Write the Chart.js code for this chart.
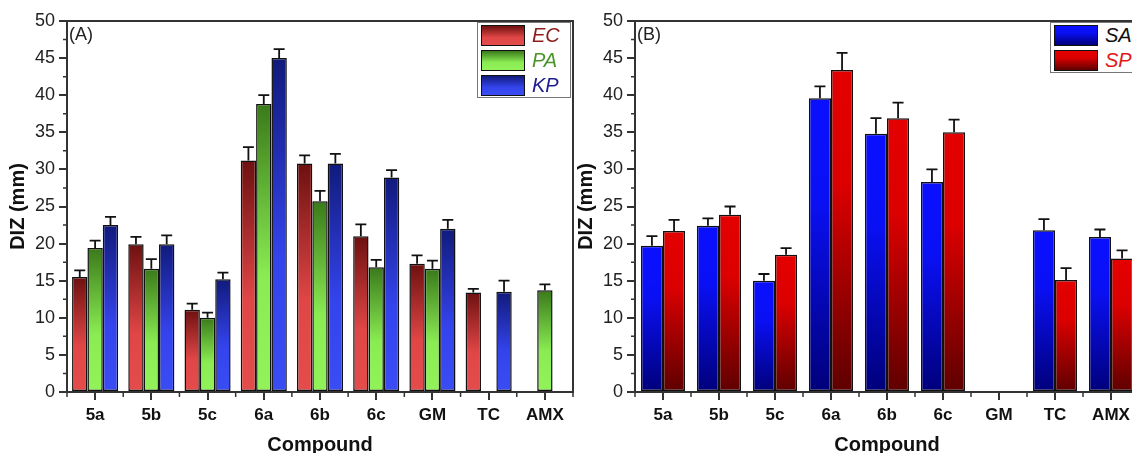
<!DOCTYPE html>
<html>
<head>
<meta charset="utf-8">
<script src="https://cdn.jsdelivr.net/npm/chart.js@4.4.1/dist/chart.umd.min.js"></script>
<style>
  html, body { margin: 0; padding: 0; background: #fff; }
  #wrap { position: relative; width: 1132px; height: 453px; overflow: hidden; font-family: "Liberation Sans", Arial, sans-serif; }
  .panel { position: absolute; top: 0; width: 600px; height: 453px; }
  .tag { position: absolute; font-size: 18px; color: #222; }
  .legend { position: absolute; border: 1.5px solid #777; background: #fff; }
  .legend .row { position: absolute; left: 3px; height: 21px; }
  .legend .sw { position: absolute; left: 0; top: 0; width: 42px; height: 19px; border: 1.5px solid #111; }
  .legend .txt { position: absolute; left: 51px; top: -1px; font-size: 20px; font-style: italic; line-height: 22px; }
</style>
</head>
<body>
<div id="wrap">
  <div class="panel" style="left:0"><canvas id="chartA" width="600" height="453"></canvas></div>
  <div class="panel" style="left:568px"><canvas id="chartB" width="600" height="453"></canvas></div>
  <div class="tag" style="left:69px; top:24px">(A)</div>
  <div class="tag" style="left:637px; top:24px">(B)</div>
  <div class="legend" id="legA" style="left:477px; top:22px; width:92px; height:74px"></div>
  <div class="legend" id="legB" style="left:1050px; top:22px; width:120px; height:49px"></div>
</div>
<script>
// categories
const compounds = ['5a', '5b', '5c', '6a', '6b', '6c', 'GM', 'TC', 'AMX'];

// panel A: Gram-negative strains
const ecValues = [15.5, 19.9, 11.1, 31.2, 30.8, 21.0, 17.3, 13.4, null];
const ecErrors = [0.9, 1.0, 0.8, 1.8, 1.1, 1.6, 1.1, 0.5, null];
const paValues = [19.4, 16.6, 10.0, 38.8, 25.7, 16.8, 16.6, null, 13.7];
const paErrors = [1.0, 1.3, 0.7, 1.2, 1.4, 1.0, 1.1, null, 0.8];
const kpValues = [22.5, 19.9, 15.2, 45.0, 30.8, 28.9, 22.0, 13.5, null];
const kpErrors = [1.1, 1.2, 0.9, 1.2, 1.3, 1.0, 1.2, 1.5, null];

// panel B: Gram-positive strains
const saValues = [19.7, 22.4, 15.0, 39.6, 34.8, 28.3, null, 21.8, 20.9];
const saErrors = [1.3, 1.0, 0.9, 1.6, 2.1, 1.7, null, 1.5, 1.0];
const spValues = [21.7, 23.9, 18.5, 43.4, 36.9, 35.0, null, 15.1, 18.0];
const spErrors = [1.5, 1.1, 0.9, 2.3, 2.1, 1.7, null, 1.6, 1.1];

// y axis
const yMin = 0;
const yMax = 50;
const yStep = 5;

const FONT = '"Liberation Sans", Arial, sans-serif';
const AXIS = '#333';

function barGradient(stops) {
    return function(ctx) {
        const chart = ctx.chart;
        const last = stops[stops.length - 1][1];
        if (!chart.chartArea || ctx.type !== 'data' || ctx.raw == null) return last;
        const y = chart.scales.y;
        const g = chart.ctx.createLinearGradient(0, y.getPixelForValue(ctx.raw), 0, y.getPixelForValue(0));
        stops.forEach(s => g.addColorStop(s[0], s[1]));
        return g;
    };
}

function cssGradient(stops) {
    return 'linear-gradient(to bottom, ' + stops.map(s => s[1] + ' ' + (s[0] * 100) + '%').join(', ') + ')';
}

const ecStops = [[0, '#6e1010'], [0.6, '#e04646'], [1, '#e44c4c']];
const paStops = [[0, '#3a7a1a'], [0.6, '#8aec52'], [1, '#92f25a']];
const kpStops = [[0, '#111a7c'], [0.6, '#3444ec'], [1, '#3a4cf4']];
const saStops = [[0, '#0a10ff'], [0.35, '#0a10f4'], [1, '#00007a']];
const spStops = [[0, '#e40000'], [0.35, '#dc0000'], [1, '#5e0000']];

// error bars, minor ticks and the frame
const extras = {
    id: 'extras',
    afterDatasetsDraw(chart, args, opts) {
        const ctx = chart.ctx;
        const {left, right, top, bottom} = chart.chartArea;
        const y = chart.scales.y;
        ctx.save();
        ctx.strokeStyle = '#111';
        ctx.lineWidth = 1.8;
        chart.data.datasets.forEach((ds, di) => {
            const meta = chart.getDatasetMeta(di);
            ds.data.forEach((v, i) => {
                if (v == null) return;
                const bar = meta.data[i];
                const ye = y.getPixelForValue(v + ds.errors[i]);
                ctx.beginPath();
                ctx.moveTo(bar.x, bar.y);
                ctx.lineTo(bar.x, ye);
                ctx.moveTo(bar.x - 5.5, ye);
                ctx.lineTo(bar.x + 5.5, ye);
                ctx.stroke();
            });
        });

        ctx.strokeStyle = AXIS;
        ctx.lineWidth = 2;
        // frame
        ctx.beginPath();
        ctx.moveTo(left - 1, top);
        ctx.lineTo(right, top);
        ctx.lineTo(right, bottom);
        ctx.stroke();
        // minor ticks
        ctx.lineWidth = 1.5;
        ctx.beginPath();
        for (let v = yMin + yStep / 2; v < yMax; v += yStep) {
            const py = y.getPixelForValue(v);
            ctx.moveTo(left - 4, py);
            ctx.lineTo(left, py);
        }
        const n = chart.data.labels.length;
        for (let k = 0; k <= n; k++) {
            const px = left + (right - left) * k / n;
            ctx.moveTo(px, bottom);
            ctx.lineTo(px, bottom + 5);
        }
        ctx.stroke();
        ctx.restore();
    }
};

function makeChart(id, datasets, catPct, padRight) {
    return new Chart(document.getElementById(id), {
        type: 'bar',
        data: { labels: compounds, datasets: datasets },
        options: {
            responsive: false,
            animation: false,
            layout: { padding: { top: 21, right: padRight, left: 0, bottom: 0 } },
            datasets: { bar: { categoryPercentage: catPct, barPercentage: 1 } },
            plugins: { legend: { display: false }, tooltip: { enabled: false } },
            scales: {
                x: {
                    offset: true,
                    grid: { offset: false, drawOnChartArea: false, tickLength: 8, color: AXIS, lineWidth: 2 },
                    border: { color: AXIS, width: 2 },
                    ticks: { color: '#111', padding: 5, font: { family: FONT, size: 17, weight: 'bold' } },
                    title: { display: true, text: 'Compound', color: '#111', padding: { top: 0, bottom: -3 },
                             font: { family: FONT, size: 20, weight: 'bold', lineHeight: 1.1 } },
                    afterFit: s => { s.height = 61; }
                },
                y: {
                    min: yMin,
                    max: yMax,
                    ticks: { stepSize: yStep, color: '#222', padding: 4, font: { family: FONT, size: 18 } },
                    grid: { drawOnChartArea: false, tickLength: 8, color: AXIS, lineWidth: 2 },
                    border: { color: AXIS, width: 2 },
                    title: { display: true, text: 'DIZ (mm)', color: '#111', padding: { top: 6, bottom: 0 },
                             font: { family: FONT, size: 20, weight: 'bold' } },
                    afterFit: s => { s.width = 67; }
                }
            }
        },
        plugins: [extras]
    });
}

function bars(label, values, errors, stops) {
    return {
        label: label,
        data: values,
        errors: errors,
        backgroundColor: barGradient(stops),
        borderColor: '#111',
        borderWidth: 1.5,
        borderSkipped: false
    };
}

makeChart('chartA', [
    bars('EC', ecValues, ecErrors, ecStops),
    bars('PA', paValues, paErrors, paStops),
    bars('KP', kpValues, kpErrors, kpStops)
], 0.82, 27);

makeChart('chartB', [
    bars('SA', saValues, saErrors, saStops),
    bars('SP', spValues, spErrors, spStops)
], 0.79, 29);

function legend(id, items) {
    const box = document.getElementById(id);
    items.forEach((it, i) => {
        const row = document.createElement('div');
        row.className = 'row';
        row.style.top = (2 + i * 25) + 'px';
        row.innerHTML = '<div class="sw" style="background:' + cssGradient(it.stops) + '"></div>' +
            '<div class="txt" style="color:' + it.color + '">' + it.label + '</div>';
        box.appendChild(row);
    });
}

legend('legA', [
    { label: 'EC', stops: ecStops, color: '#8c1c1c' },
    { label: 'PA', stops: paStops, color: '#4a962a' },
    { label: 'KP', stops: kpStops, color: '#1c1c8e' }
]);
legend('legB', [
    { label: 'SA', stops: saStops, color: '#111' },
    { label: 'SP', stops: spStops, color: '#e01818' }
]);
</script>
</body>
</html>
